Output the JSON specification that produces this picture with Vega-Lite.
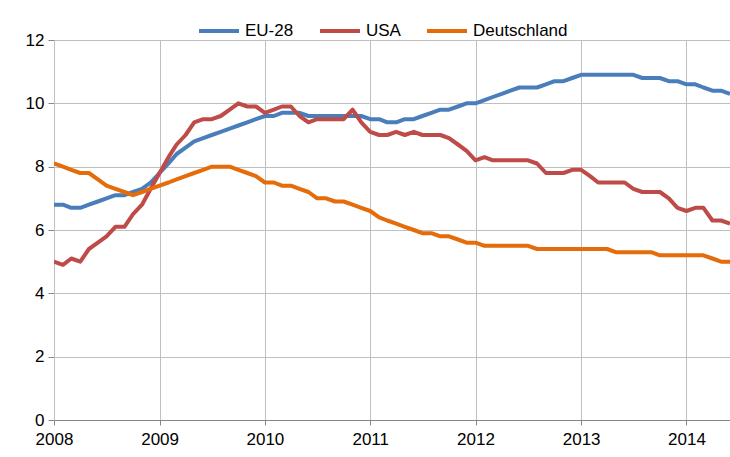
{
  "$schema": "https://vega.github.io/schema/vega-lite/v6.json",
  "width": 676,
  "height": 380,
  "autosize": {"type": "none"},
  "padding": {"left": 54, "top": 40, "right": 0, "bottom": 37},
  "background": "white",
  "config": {
    "view": {"stroke": null},
    "font": "Liberation Sans Narrow, Liberation Sans",
    "axis": {"labelFont": "Liberation Sans Narrow, Liberation Sans", "labelFontSize": 17, "labelColor": "#000000", "gridColor": "#BFBFBF", "gridWidth": 1, "domainColor": "#868686", "tickColor": "#868686"}
  },
  "data": {
    "values": [
      {"date": "2008-01-01", "EU-28": 6.8, "USA": 5.0, "Deutschland": 8.1},
      {"date": "2008-02-01", "EU-28": 6.8, "USA": 4.9, "Deutschland": 8.0},
      {"date": "2008-03-01", "EU-28": 6.7, "USA": 5.1, "Deutschland": 7.9},
      {"date": "2008-04-01", "EU-28": 6.7, "USA": 5.0, "Deutschland": 7.8},
      {"date": "2008-05-01", "EU-28": 6.8, "USA": 5.4, "Deutschland": 7.8},
      {"date": "2008-06-01", "EU-28": 6.9, "USA": 5.6, "Deutschland": 7.6},
      {"date": "2008-07-01", "EU-28": 7.0, "USA": 5.8, "Deutschland": 7.4},
      {"date": "2008-08-01", "EU-28": 7.1, "USA": 6.1, "Deutschland": 7.3},
      {"date": "2008-09-01", "EU-28": 7.1, "USA": 6.1, "Deutschland": 7.2},
      {"date": "2008-10-01", "EU-28": 7.2, "USA": 6.5, "Deutschland": 7.1},
      {"date": "2008-11-01", "EU-28": 7.3, "USA": 6.8, "Deutschland": 7.2},
      {"date": "2008-12-01", "EU-28": 7.5, "USA": 7.3, "Deutschland": 7.3},
      {"date": "2009-01-01", "EU-28": 7.8, "USA": 7.8, "Deutschland": 7.4},
      {"date": "2009-02-01", "EU-28": 8.1, "USA": 8.3, "Deutschland": 7.5},
      {"date": "2009-03-01", "EU-28": 8.4, "USA": 8.7, "Deutschland": 7.6},
      {"date": "2009-04-01", "EU-28": 8.6, "USA": 9.0, "Deutschland": 7.7},
      {"date": "2009-05-01", "EU-28": 8.8, "USA": 9.4, "Deutschland": 7.8},
      {"date": "2009-06-01", "EU-28": 8.9, "USA": 9.5, "Deutschland": 7.9},
      {"date": "2009-07-01", "EU-28": 9.0, "USA": 9.5, "Deutschland": 8.0},
      {"date": "2009-08-01", "EU-28": 9.1, "USA": 9.6, "Deutschland": 8.0},
      {"date": "2009-09-01", "EU-28": 9.2, "USA": 9.8, "Deutschland": 8.0},
      {"date": "2009-10-01", "EU-28": 9.3, "USA": 10.0, "Deutschland": 7.9},
      {"date": "2009-11-01", "EU-28": 9.4, "USA": 9.9, "Deutschland": 7.8},
      {"date": "2009-12-01", "EU-28": 9.5, "USA": 9.9, "Deutschland": 7.7},
      {"date": "2010-01-01", "EU-28": 9.6, "USA": 9.7, "Deutschland": 7.5},
      {"date": "2010-02-01", "EU-28": 9.6, "USA": 9.8, "Deutschland": 7.5},
      {"date": "2010-03-01", "EU-28": 9.7, "USA": 9.9, "Deutschland": 7.4},
      {"date": "2010-04-01", "EU-28": 9.7, "USA": 9.9, "Deutschland": 7.4},
      {"date": "2010-05-01", "EU-28": 9.7, "USA": 9.6, "Deutschland": 7.3},
      {"date": "2010-06-01", "EU-28": 9.6, "USA": 9.4, "Deutschland": 7.2},
      {"date": "2010-07-01", "EU-28": 9.6, "USA": 9.5, "Deutschland": 7.0},
      {"date": "2010-08-01", "EU-28": 9.6, "USA": 9.5, "Deutschland": 7.0},
      {"date": "2010-09-01", "EU-28": 9.6, "USA": 9.5, "Deutschland": 6.9},
      {"date": "2010-10-01", "EU-28": 9.6, "USA": 9.5, "Deutschland": 6.9},
      {"date": "2010-11-01", "EU-28": 9.6, "USA": 9.8, "Deutschland": 6.8},
      {"date": "2010-12-01", "EU-28": 9.6, "USA": 9.4, "Deutschland": 6.7},
      {"date": "2011-01-01", "EU-28": 9.5, "USA": 9.1, "Deutschland": 6.6},
      {"date": "2011-02-01", "EU-28": 9.5, "USA": 9.0, "Deutschland": 6.4},
      {"date": "2011-03-01", "EU-28": 9.4, "USA": 9.0, "Deutschland": 6.3},
      {"date": "2011-04-01", "EU-28": 9.4, "USA": 9.1, "Deutschland": 6.2},
      {"date": "2011-05-01", "EU-28": 9.5, "USA": 9.0, "Deutschland": 6.1},
      {"date": "2011-06-01", "EU-28": 9.5, "USA": 9.1, "Deutschland": 6.0},
      {"date": "2011-07-01", "EU-28": 9.6, "USA": 9.0, "Deutschland": 5.9},
      {"date": "2011-08-01", "EU-28": 9.7, "USA": 9.0, "Deutschland": 5.9},
      {"date": "2011-09-01", "EU-28": 9.8, "USA": 9.0, "Deutschland": 5.8},
      {"date": "2011-10-01", "EU-28": 9.8, "USA": 8.9, "Deutschland": 5.8},
      {"date": "2011-11-01", "EU-28": 9.9, "USA": 8.7, "Deutschland": 5.7},
      {"date": "2011-12-01", "EU-28": 10.0, "USA": 8.5, "Deutschland": 5.6},
      {"date": "2012-01-01", "EU-28": 10.0, "USA": 8.2, "Deutschland": 5.6},
      {"date": "2012-02-01", "EU-28": 10.1, "USA": 8.3, "Deutschland": 5.5},
      {"date": "2012-03-01", "EU-28": 10.2, "USA": 8.2, "Deutschland": 5.5},
      {"date": "2012-04-01", "EU-28": 10.3, "USA": 8.2, "Deutschland": 5.5},
      {"date": "2012-05-01", "EU-28": 10.4, "USA": 8.2, "Deutschland": 5.5},
      {"date": "2012-06-01", "EU-28": 10.5, "USA": 8.2, "Deutschland": 5.5},
      {"date": "2012-07-01", "EU-28": 10.5, "USA": 8.2, "Deutschland": 5.5},
      {"date": "2012-08-01", "EU-28": 10.5, "USA": 8.1, "Deutschland": 5.4},
      {"date": "2012-09-01", "EU-28": 10.6, "USA": 7.8, "Deutschland": 5.4},
      {"date": "2012-10-01", "EU-28": 10.7, "USA": 7.8, "Deutschland": 5.4},
      {"date": "2012-11-01", "EU-28": 10.7, "USA": 7.8, "Deutschland": 5.4},
      {"date": "2012-12-01", "EU-28": 10.8, "USA": 7.9, "Deutschland": 5.4},
      {"date": "2013-01-01", "EU-28": 10.9, "USA": 7.9, "Deutschland": 5.4},
      {"date": "2013-02-01", "EU-28": 10.9, "USA": 7.7, "Deutschland": 5.4},
      {"date": "2013-03-01", "EU-28": 10.9, "USA": 7.5, "Deutschland": 5.4},
      {"date": "2013-04-01", "EU-28": 10.9, "USA": 7.5, "Deutschland": 5.4},
      {"date": "2013-05-01", "EU-28": 10.9, "USA": 7.5, "Deutschland": 5.3},
      {"date": "2013-06-01", "EU-28": 10.9, "USA": 7.5, "Deutschland": 5.3},
      {"date": "2013-07-01", "EU-28": 10.9, "USA": 7.3, "Deutschland": 5.3},
      {"date": "2013-08-01", "EU-28": 10.8, "USA": 7.2, "Deutschland": 5.3},
      {"date": "2013-09-01", "EU-28": 10.8, "USA": 7.2, "Deutschland": 5.3},
      {"date": "2013-10-01", "EU-28": 10.8, "USA": 7.2, "Deutschland": 5.2},
      {"date": "2013-11-01", "EU-28": 10.7, "USA": 7.0, "Deutschland": 5.2},
      {"date": "2013-12-01", "EU-28": 10.7, "USA": 6.7, "Deutschland": 5.2},
      {"date": "2014-01-01", "EU-28": 10.6, "USA": 6.6, "Deutschland": 5.2},
      {"date": "2014-02-01", "EU-28": 10.6, "USA": 6.7, "Deutschland": 5.2},
      {"date": "2014-03-01", "EU-28": 10.5, "USA": 6.7, "Deutschland": 5.2},
      {"date": "2014-04-01", "EU-28": 10.4, "USA": 6.3, "Deutschland": 5.1},
      {"date": "2014-05-01", "EU-28": 10.4, "USA": 6.3, "Deutschland": 5.0},
      {"date": "2014-06-01", "EU-28": 10.3, "USA": 6.2, "Deutschland": 5.0}
    ]
  },
  "transform": [
    {"fold": ["EU-28", "USA", "Deutschland"], "as": ["series", "value"]}
  ],
  "mark": {"type": "line", "strokeWidth": 4, "strokeJoin": "round", "clip": true},
  "encoding": {
    "x": {
      "field": "date", "type": "temporal",
      "scale": {"type": "utc", "domain": [{"year": 2008, "month": 1, "date": 1, "utc": true}, {"year": 2014, "month": 6, "date": 1, "utc": true}]},
      "axis": {"title": null, "format": "%Y", "tickCount": {"interval": "year", "step": 1}, "grid": true, "tickSize": 5, "labelPadding": 6, "domainColor": "#868686", "labelFlush": false}
    },
    "y": {
      "field": "value", "type": "quantitative",
      "scale": {"domain": [0, 12], "nice": false},
      "axis": {"title": null, "values": [0, 2, 4, 6, 8, 10, 12], "grid": true, "tickSize": 6, "labelPadding": 4, "domainColor": "#BFBFBF", "tickColor": "#868686"}
    },
    "color": {
      "field": "series", "type": "nominal",
      "scale": {"domain": ["EU-28", "USA", "Deutschland"], "range": ["#4A7EBB", "#BE4B48", "#E46C0A"]},
      "legend": {
        "title": null, "orient": "none", "direction": "horizontal",
        "legendX": 143, "legendY": -31,
        "symbolType": "stroke", "symbolSize": 1600, "symbolStrokeWidth": 4,
        "labelFontSize": 17, "labelColor": "#000000", "labelOffset": 4, "columnPadding": 18
      }
    }
  }
}
